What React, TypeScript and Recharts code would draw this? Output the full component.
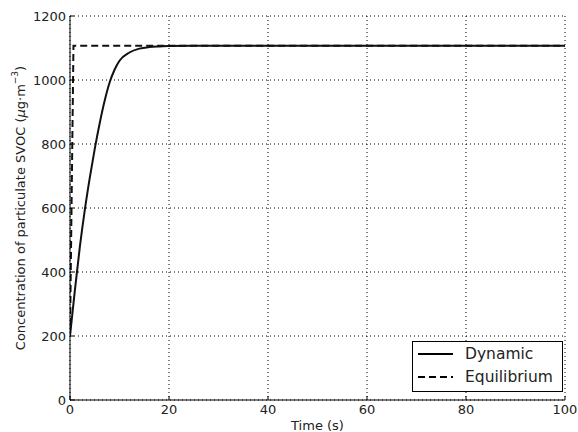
import React from "react";
import {
  LineChart,
  Line,
  XAxis,
  YAxis,
  CartesianGrid,
  Label,
} from "recharts";

const timeDynamic = [0, 1, 2, 3, 4, 5, 6, 7, 8, 9, 10, 12, 14, 16, 18, 20, 25, 30, 100];
const concDynamic = [200, 345, 480, 595, 695, 785, 865, 935, 992, 1032, 1060, 1086, 1098, 1103, 1105, 1106, 1107, 1107, 1107];

const timeEquilibrium = [0, 0.7, 100];
const concEquilibrium = [200, 1107, 1107];

const xTicks = [0, 20, 40, 60, 80, 100];
const yTicks = [0, 200, 400, 600, 800, 1000, 1200];

const FONT = "'DejaVu Sans', sans-serif";
const INK = "#222";

const dynamicData = timeDynamic.map((t, i) => ({ t, v: concDynamic[i] }));
const equilibriumData = timeEquilibrium.map((t, i) => ({ t, v: concEquilibrium[i] }));

const YLabel = (props: any) => {
  const vb = props.viewBox || {};
  const cy = (vb.y ?? 16) + (vb.height ?? 384) / 2;
  const cx = 20;
  return (
    <text
      x={cx}
      y={cy}
      transform={`rotate(-90, ${cx}, ${cy})`}
      textAnchor="middle"
      dominantBaseline="central"
      fontFamily={FONT}
      fontSize={13}
      fill={INK}
    >
      Concentration of particulate SVOC (
      <tspan fontStyle="italic">μ</tspan>g·m
      <tspan dy={-5} fontSize={9}>−3</tspan>
      <tspan dy={5}>)</tspan>
    </text>
  );
};

// legend drawn outside recharts so it reserves no space
const LegendBox = () => (
  <div
    style={{
      position: "absolute",
      left: 412,
      top: 341,
      border: "1px solid #000",
      background: "#fff",
      width: 151,
      height: 51,
      boxSizing: "border-box",
    }}
  >
    <svg width={149} height={49} style={{ position: "absolute", left: 0, top: 0 }}>
      <line x1={5} x2={40} y1={12} y2={12} stroke="#000" strokeWidth={2} />
      <line x1={5} x2={40} y1={35} y2={35} stroke="#000" strokeWidth={2} strokeDasharray="7 4" />
      <text x={52} y={12} dominantBaseline="central" fontFamily={FONT} fontSize={15.5} fill={INK}>
        Dynamic
      </text>
      <text x={52} y={35} dominantBaseline="central" fontFamily={FONT} fontSize={15.5} fill={INK}>
        Equilibrium
      </text>
    </svg>
  </div>
);

const tickStyle = { fontFamily: FONT, fontSize: 13, fill: INK };

export default function App() {
  return (
    <div style={{ position: "absolute", left: 0, top: 0, width: 578, height: 432, background: "#fff" }}>
      <LineChart width={578} height={432} margin={{ top: 16, right: 13, left: 0, bottom: 0 }}>
        <CartesianGrid stroke="#000" strokeDasharray="1 3" strokeWidth={1} />
        <XAxis
          dataKey="t"
          type="number"
          domain={[0, 100]}
          ticks={xTicks}
          height={32}
          tick={tickStyle}
          tickSize={-4}
          tickMargin={9}
          stroke="#000"
          allowDataOverflow
        >
          <Label
            value="Time (s)"
            position="insideBottom"
            offset={2}
            style={{ fontFamily: FONT, fontSize: 13, fill: INK }}
          />
        </XAxis>
        <XAxis
          xAxisId="top"
          orientation="top"
          type="number"
          domain={[0, 100]}
          ticks={xTicks}
          height={0}
          tick={false}
          tickSize={-4}
          stroke="#000"
        />
        <YAxis
          type="number"
          domain={[0, 1200]}
          ticks={yTicks}
          width={70}
          tick={tickStyle}
          tickSize={-4}
          tickMargin={8}
          stroke="#000"
          allowDataOverflow
        >
          <Label content={<YLabel />} />
        </YAxis>
        <YAxis
          yAxisId="right"
          orientation="right"
          type="number"
          domain={[0, 1200]}
          ticks={yTicks}
          width={0}
          tick={false}
          tickSize={-4}
          stroke="#000"
        />
        <Line
          data={dynamicData}
          dataKey="v"
          type="monotone"
          stroke="#111"
          strokeWidth={2}
          dot={false}
          isAnimationActive={false}
          name="Dynamic"
        />
        <Line
          data={equilibriumData}
          dataKey="v"
          type="linear"
          stroke="#111"
          strokeWidth={2}
          strokeDasharray="7 4"
          dot={false}
          isAnimationActive={false}
          name="Equilibrium"
        />
      </LineChart>
      <LegendBox />
    </div>
  );
}
